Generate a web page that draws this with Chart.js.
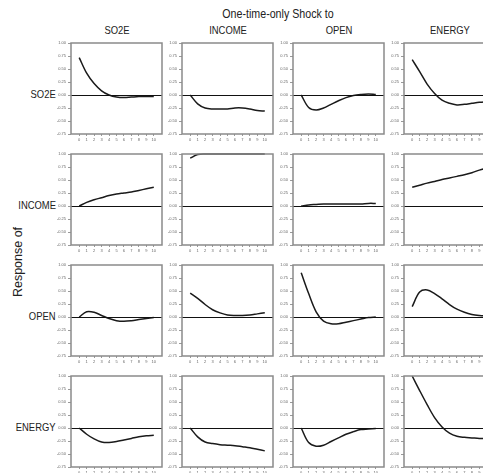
<!DOCTYPE html>
<html>
<head>
<meta charset="utf-8">
<script src="https://cdn.jsdelivr.net/npm/chart.js@4.4.1/dist/chart.umd.min.js"></script>
<style>
  html, body { margin:0; padding:0; background:#fff; width:483px; height:473px; overflow:hidden; position:relative; }
  .txt { position:absolute; font-family:'Liberation Sans Narrow','Liberation Sans',Arial,sans-serif; color:#222; white-space:nowrap; line-height:1.2; }
  canvas { position:absolute; }
</style>
</head>
<body>
<script>
// ---- data ----
const periods = [0,1,2,3,4,5,6,7,8,9,10];
const shockNames = ["SO2E","INCOME","OPEN","ENERGY"];
const responseNames = ["SO2E","INCOME","OPEN","ENERGY"];
const yTicks = [1.00,0.75,0.50,0.25,0.00,-0.25,-0.50,-0.75];

// response of SO2E
const so2e_so2e     = [0.72,0.42,0.22,0.08,0.00,-0.04,-0.05,-0.04,-0.03,-0.03,-0.03];
const so2e_income   = [0.00,-0.17,-0.25,-0.27,-0.27,-0.27,-0.25,-0.25,-0.27,-0.30,-0.31];
const so2e_open     = [0.00,-0.24,-0.29,-0.25,-0.18,-0.11,-0.05,-0.01,0.01,0.02,0.01];
const so2e_energy   = [0.68,0.45,0.21,0.03,-0.10,-0.16,-0.19,-0.18,-0.16,-0.14,-0.13];
// response of INCOME
const income_so2e   = [0.00,0.07,0.12,0.16,0.20,0.23,0.25,0.27,0.30,0.33,0.36];
const income_income = [0.92,0.99,1.00,1.00,1.00,1.00,1.00,1.00,1.00,1.00,1.00];
const income_open   = [0.00,0.02,0.03,0.04,0.04,0.04,0.04,0.04,0.04,0.05,0.05];
const income_energy = [0.36,0.40,0.44,0.47,0.51,0.54,0.57,0.60,0.64,0.69,0.73];
// response of OPEN
const open_so2e     = [0.00,0.10,0.09,0.03,-0.03,-0.07,-0.08,-0.07,-0.05,-0.03,-0.01];
const open_income   = [0.46,0.36,0.24,0.14,0.08,0.04,0.03,0.03,0.04,0.06,0.08];
const open_open     = [0.85,0.45,0.10,-0.08,-0.13,-0.13,-0.10,-0.07,-0.04,-0.01,0.00];
const open_energy   = [0.20,0.48,0.52,0.45,0.35,0.24,0.15,0.09,0.05,0.03,0.02];
// response of ENERGY
const energy_so2e   = [0.00,-0.12,-0.21,-0.27,-0.28,-0.26,-0.23,-0.20,-0.17,-0.15,-0.14];
const energy_income = [0.00,-0.17,-0.27,-0.30,-0.32,-0.33,-0.34,-0.36,-0.38,-0.41,-0.44];
const energy_open   = [0.00,-0.28,-0.35,-0.33,-0.26,-0.19,-0.12,-0.07,-0.03,-0.02,-0.01];
const energy_energy = [1.00,0.72,0.45,0.20,0.02,-0.10,-0.16,-0.18,-0.19,-0.20,-0.20];

const grid = [
  [so2e_so2e, so2e_income, so2e_open, so2e_energy],
  [income_so2e, income_income, income_open, income_energy],
  [open_so2e, open_income, open_open, open_energy],
  [energy_so2e, energy_income, energy_open, energy_energy]
];

// ---- layout ----
const PLOT = 91, STEP = 111, LEFT0 = 71, TOP0 = 43;
const YW = 30, XH = 14, PADT = 5, PADR = 5;

function addText(str, x, y, size, align) {
  const d = document.createElement('div');
  d.className = 'txt';
  d.textContent = str;
  d.style.fontSize = size + 'px';
  d.style.top = (y - size * 0.6) + 'px';
  if (align === 'center') {
    d.style.left = x + 'px';
    d.style.transform = 'translateX(-50%) scaleX(0.82)';
  } else {
    d.style.right = (483 - x) + 'px';
    d.style.transformOrigin = 'right center';
    d.style.transform = 'scaleX(0.82)';
  }
  document.body.appendChild(d);
  return d;
}

addText("One-time-only Shock to", 278, 14, 13, 'center');
shockNames.forEach((n, c) => addText(n, LEFT0 + STEP * c + PLOT / 2, 31, 11.5, 'center'));
responseNames.forEach((n, r) => addText(n, 56, TOP0 + STEP * r + 52, 11.5, 'right'));
const resp = document.createElement('div');
resp.className = 'txt';
resp.textContent = 'Response of';
resp.style.fontFamily = "'Liberation Sans',Arial,sans-serif";
resp.style.fontSize = '12.5px';
resp.style.left = '18px';
resp.style.top = '262px';
resp.style.transform = 'translate(-50%,-50%) rotate(-90deg)';
document.body.appendChild(resp);

const framePlugin = {
  id: 'frame',
  afterDatasetsDraw(chart) {
    const a = chart.chartArea, ctx = chart.ctx;
    const y0 = chart.scales.y.getPixelForValue(0);
    ctx.save();
    ctx.strokeStyle = '#111';
    ctx.lineWidth = 1;
    ctx.beginPath();
    ctx.moveTo(a.left, Math.round(y0) + 0.5);
    ctx.lineTo(a.right, Math.round(y0) + 0.5);
    ctx.stroke();
    ctx.strokeStyle = '#8a8a8a';
    ctx.lineWidth = 1.5;
    ctx.strokeRect(a.left, a.top, a.right - a.left, a.bottom - a.top);
    ctx.restore();
  }
};

for (let r = 0; r < 4; r++) {
  for (let c = 0; c < 4; c++) {
    const L = LEFT0 + STEP * c, T = TOP0 + STEP * r;
    const cv = document.createElement('canvas');
    const w = PLOT + YW + PADR, h = PLOT + PADT + XH;
    cv.width = w; cv.height = h;
    cv.style.width = w + 'px'; cv.style.height = h + 'px';
    cv.style.left = (L - YW) + 'px';
    cv.style.top = (T - PADT) + 'px';
    document.body.appendChild(cv);
    new Chart(cv, {
      type: 'line',
      data: {
        datasets: [{
          data: periods.map((p, i) => ({ x: p, y: grid[r][c][i] })),
          borderColor: '#1a1a1a',
          borderWidth: 1.5,
          pointRadius: 0,
          tension: 0.35,
          fill: false
        }]
      },
      options: {
        responsive: false,
        animation: false,
        events: [],
        layout: { padding: { left: 0, top: PADT, right: PADR, bottom: 0 } },
        plugins: { legend: { display: false }, tooltip: { enabled: false } },
        scales: {
          x: {
            type: 'linear', min: -1.1, max: 11.1,
            afterBuildTicks: s => { s.ticks = periods.map(v => ({ value: v })); },
            afterFit: s => { s.height = XH; },
            grid: { display: true, drawOnChartArea: false, drawTicks: true, tickLength: 2, color: '#999' },
            border: { display: false },
            ticks: { font: { size: 4, family: "'Liberation Sans Narrow','Liberation Sans',Arial" }, color: '#666', padding: 1, maxRotation: 0, autoSkip: false, callback: v => String(v) }
          },
          y: {
            type: 'linear', min: -0.75, max: 1.0,
            afterBuildTicks: s => { s.ticks = yTicks.map(v => ({ value: v })); },
            afterFit: s => { s.width = YW; },
            grid: { display: true, drawOnChartArea: false, drawTicks: true, tickLength: 3, color: '#999' },
            border: { display: false },
            ticks: { font: { size: 4, family: "'Liberation Sans Narrow','Liberation Sans',Arial" }, color: '#666', padding: 2, autoSkip: false, callback: v => v.toFixed(2) }
          }
        },
        clip: false
      },
      plugins: [framePlugin]
    });
  }
}
</script>
</body>
</html>
